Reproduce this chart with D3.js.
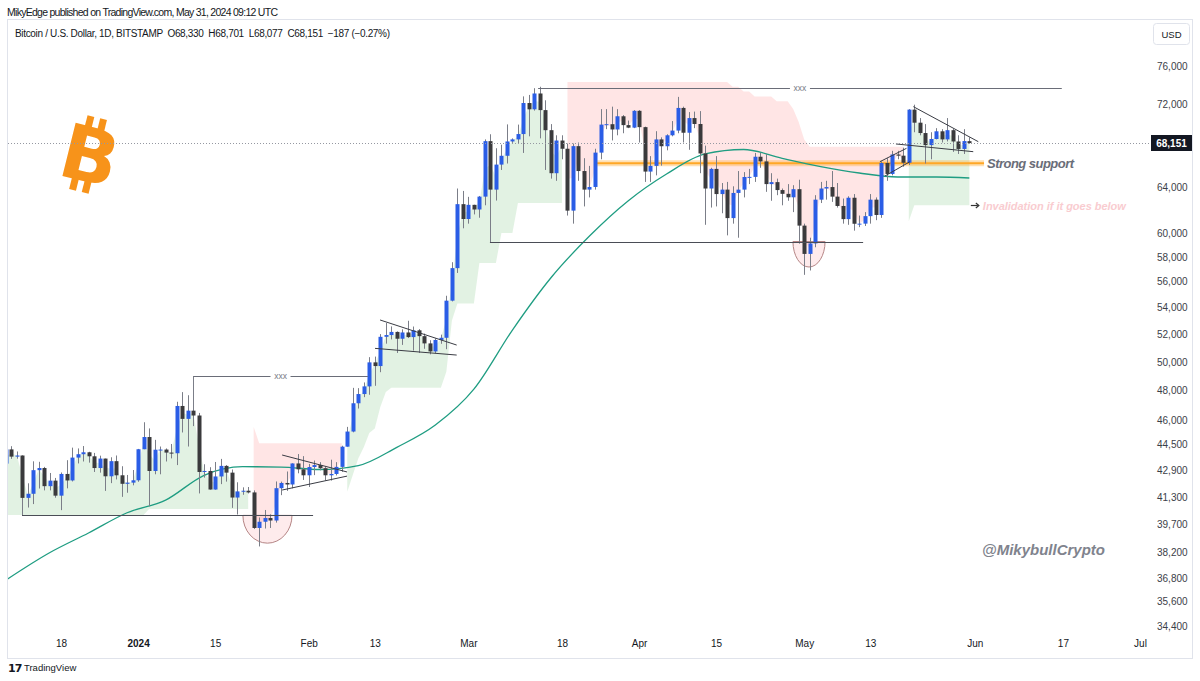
<!DOCTYPE html>
<html>
<head>
<meta charset="utf-8">
<title>BTCUSD 1D</title>
<script src="https://cdn.jsdelivr.net/npm/d3@7/dist/d3.min.js"></script>
<style>
  html, body { margin: 0; padding: 0; background: #ffffff; }
  svg { display: block; font-family: "Liberation Sans", Arial, sans-serif; }
</style>
</head>
<body>
<svg id="chart" width="1200" height="681"></svg>
<script>
"use strict";

// ---- daily candles (Bitstamp BTCUSD) ----
var dates = [
  "2023-12-08","2023-12-09","2023-12-10","2023-12-11","2023-12-12","2023-12-13","2023-12-14","2023-12-15","2023-12-16","2023-12-17","2023-12-18","2023-12-19","2023-12-20","2023-12-21","2023-12-22","2023-12-23","2023-12-24","2023-12-25","2023-12-26","2023-12-27","2023-12-28","2023-12-29","2023-12-30","2023-12-31",
  "2024-01-01","2024-01-02","2024-01-03","2024-01-04","2024-01-05","2024-01-06","2024-01-07","2024-01-08","2024-01-09","2024-01-10","2024-01-11","2024-01-12","2024-01-13","2024-01-14","2024-01-15","2024-01-16","2024-01-17","2024-01-18","2024-01-19","2024-01-20","2024-01-21","2024-01-22","2024-01-23","2024-01-24","2024-01-25","2024-01-26","2024-01-27","2024-01-28","2024-01-29","2024-01-30","2024-01-31",
  "2024-02-01","2024-02-02","2024-02-03","2024-02-04","2024-02-05","2024-02-06","2024-02-07","2024-02-08","2024-02-09","2024-02-10","2024-02-11","2024-02-12","2024-02-13","2024-02-14","2024-02-15","2024-02-16","2024-02-17","2024-02-18","2024-02-19","2024-02-20","2024-02-21","2024-02-22","2024-02-23","2024-02-24","2024-02-25","2024-02-26","2024-02-27","2024-02-28","2024-02-29",
  "2024-03-01","2024-03-02","2024-03-03","2024-03-04","2024-03-05","2024-03-06","2024-03-07","2024-03-08","2024-03-09","2024-03-10","2024-03-11","2024-03-12","2024-03-13","2024-03-14","2024-03-15","2024-03-16","2024-03-17","2024-03-18","2024-03-19","2024-03-20","2024-03-21","2024-03-22","2024-03-23","2024-03-24","2024-03-25","2024-03-26","2024-03-27","2024-03-28","2024-03-29","2024-03-30","2024-03-31",
  "2024-04-01","2024-04-02","2024-04-03","2024-04-04","2024-04-05","2024-04-06","2024-04-07","2024-04-08","2024-04-09","2024-04-10","2024-04-11","2024-04-12","2024-04-13","2024-04-14","2024-04-15","2024-04-16","2024-04-17","2024-04-18","2024-04-19","2024-04-20","2024-04-21","2024-04-22","2024-04-23","2024-04-24","2024-04-25","2024-04-26","2024-04-27","2024-04-28","2024-04-29","2024-04-30",
  "2024-05-01","2024-05-02","2024-05-03","2024-05-04","2024-05-05","2024-05-06","2024-05-07","2024-05-08","2024-05-09","2024-05-10","2024-05-11","2024-05-12","2024-05-13","2024-05-14","2024-05-15","2024-05-16","2024-05-17","2024-05-18","2024-05-19","2024-05-20","2024-05-21","2024-05-22","2024-05-23","2024-05-24","2024-05-25","2024-05-26","2024-05-27","2024-05-28","2024-05-29","2024-05-30","2024-05-31"
];
var opens = [
  43290,44170,43720,43790,41240,41480,42890,43020,41930,42260,41370,42660,42270,43660,43870,43990,43740,43020,43600,42520,43440,42580,42070,42140,
  42280,44180,44950,42840,44150,44160,43970,43930,46970,46120,46660,46340,42780,42840,41730,42510,43150,42740,41260,41620,41660,41560,39520,39870,40080,39940,41810,42120,42030,43300,42940,
  42580,43080,43200,43010,42580,42660,43090,44340,45300,47150,47770,48290,49960,49700,51800,51930,52160,51660,52120,51780,52280,51850,51320,50740,51570,51730,54520,57090,62500,
  61200,62440,62030,63170,68330,63800,66100,66930,68300,68500,69020,72120,71480,73100,71400,69400,65300,68390,67600,61930,67850,65500,63800,64040,67230,69950,69990,69470,70780,69900,69650,
  71330,69700,65450,65980,68500,67840,68900,69360,71620,69150,70600,70010,67150,63900,65700,63400,63800,61280,63500,63800,64950,64960,66840,66400,64300,64480,63760,63420,63110,63840,
  60630,58250,59120,62900,63900,64030,63170,62340,61190,63070,60790,60800,61450,62900,61550,66250,65230,67050,66940,66270,71450,70140,69120,67950,68540,69290,68500,69400,68300,67580,68330
];
var highs = [
  44700,44370,44040,43800,42100,43430,43400,43090,42720,42420,42750,43500,44280,44230,44380,44020,43950,43780,43600,43680,43790,43130,42600,42900,
  44200,45900,45500,44770,44350,44230,44510,47250,47900,47690,48970,46510,43250,43070,43390,43580,43200,42930,42160,41860,41880,41680,40110,40540,40290,42210,42200,42810,43310,43880,43750,
  43270,43480,43380,43120,43530,43380,44400,45600,48190,48170,48560,50330,50370,52000,52820,52570,52200,52350,52990,52560,52370,52040,51550,51690,51960,54900,57570,63900,63680,
  63150,62450,63230,68500,69000,67650,67990,69970,68600,69950,72800,72950,73650,73800,72400,70000,68900,68900,68100,68100,68200,66700,65980,67600,71500,71500,71750,71500,70900,70350,71400,
  71400,69750,66900,69300,68700,69000,70300,72750,71750,71200,71250,71300,67900,65800,66900,64400,64500,64100,65500,65400,65700,67200,67200,67100,65300,64800,63900,64300,64200,64700,
  60800,59600,63300,64500,64600,65500,64400,63000,63200,63400,61500,61800,63400,63100,66400,66700,67400,67400,67700,71500,71950,70600,70000,69200,69600,69500,70600,69550,68900,69500,68701
];
var lows = [
  43080,43580,43590,40230,40680,40880,41790,41680,41680,41250,40530,41800,42210,43300,43420,43350,42780,42740,41650,42110,42330,41300,41540,41980,
  42190,44180,40750,42640,42640,43420,43610,43200,45240,44350,45650,41500,42440,41720,41720,42050,42200,40660,40280,41420,41500,39460,38500,39490,39520,39820,41400,41650,41800,42700,42300,
  41880,42590,42880,42260,42260,42570,42790,44340,45250,46800,47560,47720,48330,49270,51300,51610,50630,51210,51710,50800,50630,50930,50530,50610,51290,50900,54460,56700,60400,
  60800,61600,61310,62400,59200,62820,65600,66200,68160,68120,67200,68800,71350,68600,65600,64800,64600,66600,61500,60800,64600,62300,63100,63800,66600,69500,68400,68900,69100,69600,69600,
  68200,64500,64500,65100,66000,67450,68800,69100,68200,67500,69600,65300,60700,62200,62300,61700,59800,60800,59600,63100,64300,64500,65800,63600,62800,63300,62400,62800,61800,59100,
  56550,56900,58800,62600,62900,62700,62200,60800,60700,60200,60500,60600,60800,61100,61300,64600,65100,66600,65900,66060,69200,68900,66200,66600,68500,68200,68300,67300,67100,67100,68077
];
var closes = [
  44170,43720,43790,41240,41480,42890,43020,41930,42260,41370,42660,42270,43660,43870,43990,43740,43020,43600,42520,43440,42580,42070,42140,42280,
  44180,44950,42840,44150,44160,43970,43930,46970,46120,46660,46340,42780,42840,41730,42510,43150,42740,41260,41620,41660,41560,39520,39870,40080,39940,41810,42120,42030,43300,42940,42580,
  43080,43200,43010,42580,42660,43090,44340,45300,47150,47770,48290,49960,49700,51800,51930,52160,51660,52120,51780,52280,51850,51320,50740,51570,51730,54520,57090,62500,61200,
  62440,62030,63170,68330,63800,66100,66930,68300,68500,69020,72120,71480,73100,71400,69400,65300,68390,67600,61930,67850,65500,63800,64040,67230,69950,69990,69470,70780,69900,69650,71330,
  69700,65450,65980,68500,67840,68900,69360,71620,69150,70600,70010,67150,63900,65700,63400,63800,61280,63500,63800,64950,64960,66840,66400,64300,64480,63760,63420,63110,63840,60630,
  58250,59120,62900,63900,64030,63170,62340,61190,63070,60790,60800,61450,62900,61550,66250,65230,67050,66940,66270,71450,70140,69120,67950,68540,69290,68500,69400,68300,67580,68338,68151
];
var lastPrice = 68151;

// ---- 50-day moving average ----
var maDates = ["2023-12-08","2023-12-16","2023-12-23","2023-12-30","2024-01-06","2024-01-13","2024-01-20","2024-01-27","2024-02-03","2024-02-10","2024-02-17","2024-02-24","2024-03-02","2024-03-09","2024-03-16","2024-03-23","2024-03-30","2024-04-06","2024-04-13","2024-04-20","2024-04-27","2024-05-04","2024-05-11","2024-05-18","2024-05-25","2024-05-31"];
var maValues = [36710,38170,39240,40380,41110,42580,43100,43080,42930,43170,44300,45720,48100,52300,56320,59740,62780,65220,67100,67530,66690,65920,65320,64950,64950,64860];

// ---- supertrend stop (level changes) ----
var stDates = ["2023-12-08","2024-01-03","2024-01-22","2024-01-23","2024-02-08","2024-02-09","2024-02-10","2024-02-11","2024-02-12","2024-02-13","2024-02-14","2024-02-15","2024-02-16","2024-02-26","2024-02-27","2024-02-28","2024-03-03","2024-03-07","2024-03-10","2024-03-19","2024-04-18","2024-04-20","2024-04-22","2024-04-26","2024-04-29","2024-04-30","2024-05-01","2024-05-02","2024-05-20","2024-05-21"];
var stLevels = [40250,40600,45600,44550,41600,42600,43600,44300,45200,45500,46900,47900,48200,49300,53000,54300,57500,60000,62600,74300,73800,73300,72800,72300,71500,70200,68500,67800,61000,62400];
var stDirs = ["up","up","dn","dn","up","up","up","up","up","up","up","up","up","up","up","up","up","up","up","dn","dn","dn","dn","dn","dn","dn","dn","dn","up","up"];

// ---- drawings ----
var supportLines = [["2023-12-10T22:00Z","2024-02-01T19:00Z",40230],["2024-03-04T22:00Z","2024-05-11T17:00Z",59280]];
var labelLines = [["2024-01-11T00:00Z","2024-02-11T18:00Z",49000],["2024-03-13T16:00Z","2024-06-16T19:00Z",73720]];
var trendLines = [
  ["2024-01-27T04:00Z",43820,"2024-02-07T23:00Z",42780],
  ["2024-01-27T04:00Z",41700,"2024-02-07T23:00Z",42530],
  ["2024-02-13T23:00Z",53050,"2024-02-27T21:00Z",51200],
  ["2024-02-13T01:00Z",50960,"2024-02-27T21:00Z",50480],
  ["2024-05-14T18:00Z",66370,"2024-05-19T14:00Z",67640],
  ["2024-05-15T16:00Z",65040,"2024-05-20T05:00Z",66370],
  ["2024-05-20T20:00Z",71750,"2024-06-01T15:00Z",68280],
  ["2024-05-17T16:00Z",68060,"2024-05-31T17:00Z",67320]
];
var arcs = [["2024-01-20T01:00Z","2024-01-28T23:00Z",40230,38680],["2024-04-28T23:00Z","2024-05-04T19:00Z",59280,57180]];
var strongSupport = ["2024-03-24T09:00Z","2024-06-02T16:00Z",66220];
var invalidation = ["2024-06-01T00:00Z",62420];

// ---- axes ----
var xTickDates = ["2023-12-18","2024-01-01","2024-01-15","2024-02-01","2024-02-13","2024-03-01","2024-03-18","2024-04-01","2024-04-15","2024-05-01","2024-05-13","2024-06-01","2024-06-17","2024-07-01"];
var xTickLabels = ["18","2024","15","Feb","13","Mar","18","Apr","15","May","13","Jun","17","Jul"];
var yTicks = [76000,72000,64000,60000,58000,56000,54000,52000,50000,48000,46000,44500,42900,41300,39700,38200,36800,35600,34400];

var T = function (s) { return new Date(s.length > 10 ? s : s + "T00:00:00Z"); };

var x = d3.scaleUtc().domain([T("2023-12-18"), T("2024-07-01")]).range([61, 1140]);
var y = d3.scaleLog().domain([34400, 76000]).range([626, 66]);

var svg = d3.select("#chart");
var TXT = "#131722";

// frame + header
svg.append("rect").attr("x", 7.5).attr("y", 19.5).attr("width", 1185).attr("height", 639)
  .attr("fill", "none").attr("stroke", "#e0e3eb");
svg.append("text").attr("x", 7).attr("y", 16).attr("font-size", 10.5).attr("fill", TXT)
  .attr("textLength", 271).text("MikyEdge published on TradingView.com, May 31, 2024 09:12 UTC");
svg.append("text").attr("x", 15).attr("y", 37).attr("font-size", 10).attr("fill", TXT)
  .attr("textLength", 375).attr("xml:space", "preserve")
  .text("Bitcoin / U.S. Dollar, 1D, BITSTAMP  O68,330  H68,701  L68,077  C68,151  \u2212187 (\u22120.27%)");
svg.append("rect").attr("x", 1153.5).attr("y", 23.5).attr("width", 36).attr("height", 21).attr("rx", 3)
  .attr("fill", "#fff").attr("stroke", "#e0e3eb");
svg.append("text").attr("x", 1171.5).attr("y", 37.5).attr("text-anchor", "middle")
  .attr("font-size", 9.5).attr("fill", TXT).text("USD");

svg.append("defs").append("clipPath").attr("id", "plotClip")
  .append("rect").attr("x", 8).attr("y", 20).attr("width", 1142).attr("height", 612);
var plot = svg.append("g").attr("clip-path", "url(#plotClip)");

// candles
var bars = dates.map(function (d, i) {
  return { t: T(d), o: opens[i], h: highs[i], l: lows[i], c: closes[i] };
});
var k = 0;
bars.forEach(function (b) {
  while (k + 1 < stDates.length && T(stDates[k + 1]) <= b.t) k++;
  b.stop = stLevels[k];
  b.dir = stDirs[k];
});

// supertrend fills
var runs = [];
bars.forEach(function (b) {
  var last = runs[runs.length - 1];
  if (!last || last.dir !== b.dir) runs.push({ dir: b.dir, pts: [b] });
  else last.pts.push(b);
});
var stArea = d3.area()
  .x(function (d) { return x(d.t); })
  .y0(function (d) { return y(d.stop); })
  .y1(function (d) { return y((d.o + d.c) / 2); });
plot.selectAll("path.st").data(runs).enter().append("path")
  .attr("d", function (r) { return stArea(r.pts); })
  .attr("fill", function (r) { return r.dir === "up" ? "rgba(76,175,80,0.16)" : "rgba(255,82,82,0.15)"; });

// arcs
plot.selectAll("path.arc").data(arcs).enter().append("path")
  .attr("d", function (a) {
    var x1 = x(T(a[0])), x2 = x(T(a[1])), yt = y(a[2]), yb = y(a[3]);
    return "M" + x1 + "," + yt + " A" + ((x2 - x1) / 2) + "," + (yb - yt) + " 0 0 0 " + x2 + "," + yt + " Z";
  })
  .attr("fill", "rgba(242,54,69,0.10)").attr("stroke", "#b58585").attr("stroke-width", 1);

// strong support band
var ssY = y(strongSupport[2]);
plot.append("line").attr("x1", x(T(strongSupport[0]))).attr("x2", x(T(strongSupport[1])))
  .attr("y1", ssY).attr("y2", ssY).attr("stroke", "rgba(255,167,38,0.35)").attr("stroke-width", 6);
plot.append("line").attr("x1", x(T(strongSupport[0]))).attr("x2", x(T(strongSupport[1])))
  .attr("y1", ssY).attr("y2", ssY).attr("stroke", "#ffa726").attr("stroke-width", 2);

// moving average
var maLine = d3.line()
  .x(function (d, i) { return x(T(maDates[i])); })
  .y(function (d) { return y(d); })
  .curve(d3.curveMonotoneX);
plot.append("path").attr("d", maLine(maValues)).attr("fill", "none")
  .attr("stroke", "#1f9d82").attr("stroke-width", 1.3);

var cg = plot.selectAll("g.candle").data(bars).enter().append("g");
cg.append("line")
  .attr("x1", function (d) { return Math.round(x(d.t)) + 0.5; })
  .attr("x2", function (d) { return Math.round(x(d.t)) + 0.5; })
  .attr("y1", function (d) { return y(d.h); })
  .attr("y2", function (d) { return y(d.l); })
  .attr("stroke", "#7b7e88").attr("stroke-width", 1);
cg.append("rect")
  .attr("x", function (d) { return Math.round(x(d.t)) - 1.5; })
  .attr("width", 4)
  .attr("y", function (d) { return y(Math.max(d.o, d.c)); })
  .attr("height", function (d) { return Math.max(1, Math.abs(y(d.o) - y(d.c))); })
  .attr("fill", function (d) { return d.c >= d.o ? "#2a5de6" : "#3a3a3c"; });

// drawings
plot.selectAll("line.sup").data(supportLines).enter().append("line")
  .attr("x1", function (d) { return x(T(d[0])); })
  .attr("x2", function (d) { return x(T(d[1])); })
  .attr("y1", function (d) { return Math.round(y(d[2])) + 0.5; })
  .attr("y2", function (d) { return Math.round(y(d[2])) + 0.5; })
  .attr("stroke", "#4a4d56").attr("stroke-width", 1);
plot.selectAll("line.trend").data(trendLines).enter().append("line")
  .attr("x1", function (d) { return x(T(d[0])); })
  .attr("y1", function (d) { return y(d[1]); })
  .attr("x2", function (d) { return x(T(d[2])); })
  .attr("y2", function (d) { return y(d[3]); })
  .attr("stroke", "#3a3c44").attr("stroke-width", 1);
var ll = plot.selectAll("g.lbl").data(labelLines).enter().append("g");
ll.append("line")
  .attr("x1", function (d) { return x(T(d[0])); })
  .attr("x2", function (d) { return x(T(d[1])); })
  .attr("y1", function (d) { return Math.round(y(d[2])) + 0.5; })
  .attr("y2", function (d) { return Math.round(y(d[2])) + 0.5; })
  .attr("stroke", "#6a6d78").attr("stroke-width", 1);
ll.append("rect")
  .attr("x", function (d) { return (x(T(d[0])) + x(T(d[1]))) / 2 - 10; })
  .attr("y", function (d) { return y(d[2]) - 5; })
  .attr("width", 20).attr("height", 10).attr("fill", "#fff");
ll.append("text")
  .attr("x", function (d) { return (x(T(d[0])) + x(T(d[1]))) / 2; })
  .attr("y", function (d) { return y(d[2]) + 3; })
  .attr("text-anchor", "middle").attr("font-size", 8.5).attr("fill", "#787b86").text("xxx");

// bitcoin logo
var logo = svg.append("g").attr("transform", "translate(90,155) rotate(14)");
logo.append("text").attr("x", 0).attr("y", 27).attr("text-anchor", "middle")
  .attr("font-family", "DejaVu Sans").attr("font-weight", "bold").attr("font-size", 75)
  .attr("fill", "#f7931a").text("B");
[[-12, -38], [1, -38], [-12, 25], [1, 25]].forEach(function (p) {
  logo.append("rect").attr("x", p[0]).attr("y", p[1]).attr("width", 7).attr("height", 13).attr("fill", "#f7931a");
});

// last price line + label
var lpY = Math.round(y(lastPrice)) + 0.5;
svg.append("line").attr("x1", 8).attr("x2", 1151).attr("y1", lpY).attr("y2", lpY)
  .attr("stroke", "#9598a1").attr("stroke-width", 1).attr("stroke-dasharray", "1,2");
svg.append("rect").attr("x", 1151).attr("y", lpY - 8.5).attr("width", 41).attr("height", 16).attr("fill", "#131722");
svg.append("text").attr("x", 1171.5).attr("y", lpY + 3.5).attr("text-anchor", "middle")
  .attr("font-size", 10).attr("font-weight", "bold").attr("fill", "#fff").text(d3.format(",")(lastPrice));

// annotations
svg.append("text").attr("x", x(T(strongSupport[1])) + 3).attr("y", ssY + 4.5)
  .attr("font-size", 13).attr("font-style", "italic").attr("font-weight", "bold")
  .attr("fill", "#6a6d78").attr("textLength", 87).text("Strong support");
var ax = x(T(invalidation[0])), ay = Math.round(y(invalidation[1])) + 0.5;
svg.append("line").attr("x1", ax - 4).attr("x2", ax + 3).attr("y1", ay).attr("y2", ay)
  .attr("stroke", "#333").attr("stroke-width", 1.2);
svg.append("path").attr("d", "M" + (ax + 1) + "," + (ay - 2.5) + " L" + (ax + 4) + "," + ay + " L" + (ax + 1) + "," + (ay + 2.5))
  .attr("fill", "none").attr("stroke", "#333").attr("stroke-width", 1.2);
svg.append("text").attr("x", ax + 8).attr("y", ay + 4)
  .attr("font-size", 11).attr("font-style", "italic").attr("font-weight", "bold")
  .attr("fill", "#f9ccd0").attr("textLength", 143).text("Invalidation if it goes below");

svg.append("text").attr("x", 982).attr("y", 555)
  .attr("font-size", 15).attr("font-style", "italic").attr("font-weight", "bold")
  .attr("fill", "#80838d").attr("textLength", 123).text("@MikybullCrypto");

// axes
var xAxis = d3.axisBottom(x)
  .tickValues(xTickDates.map(T))
  .tickFormat(function (d, i) { return xTickLabels[i]; })
  .tickSize(0).tickPadding(0);
var gx = svg.append("g").attr("transform", "translate(0,640)").call(xAxis);
gx.select(".domain").remove();
gx.selectAll("text").attr("font-size", 10).attr("fill", TXT)
  .attr("font-family", "Liberation Sans, Arial, sans-serif")
  .attr("font-weight", function (d, i) { return xTickLabels[i] === "2024" ? "bold" : "normal"; });

var yAxis = d3.axisRight(y).tickValues(yTicks).tickFormat(d3.format(",")).tickSize(0).tickPadding(0);
var gy = svg.append("g").attr("transform", "translate(1157,0)").call(yAxis);
gy.select(".domain").remove();
gy.selectAll("text").attr("font-size", 10).attr("fill", "#3b3e48")
  .attr("font-family", "Liberation Sans, Arial, sans-serif");

// footer
svg.append("text").attr("x", 8).attr("y", 672).attr("font-size", 11).attr("font-weight", "bold")
  .attr("font-family", "DejaVu Sans").attr("letter-spacing", -1).attr("fill", TXT).text("17");
svg.append("text").attr("x", 24).attr("y", 671).attr("font-size", 9.5).attr("fill", TXT).text("TradingView");
</script>
</body>
</html>
